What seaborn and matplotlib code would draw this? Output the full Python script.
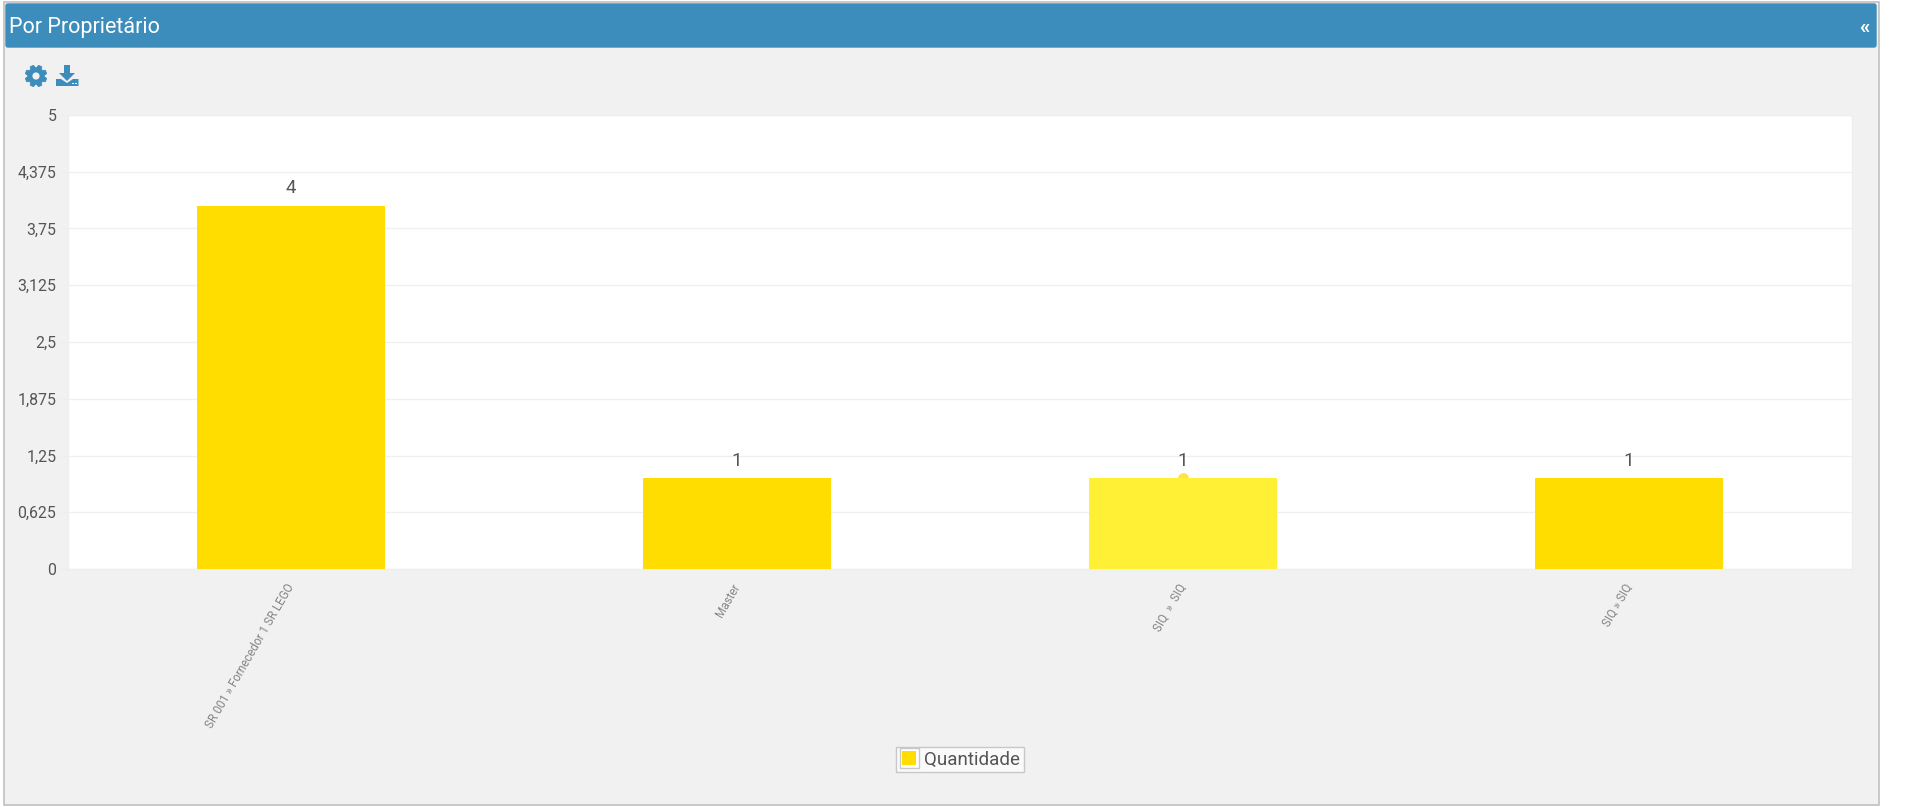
import numpy as np
import pandas as pd
import matplotlib
matplotlib.use("Agg")
import matplotlib.pyplot as plt
import seaborn as sns
from matplotlib.legend_handler import HandlerBase
from matplotlib.patches import Circle, FancyBboxPatch, Patch, Polygon, Rectangle
from matplotlib.transforms import Affine2D

# Chart values
owners = ["SR 001 » Fornecedor 1 SR LEGO", "Master", "SIQ  »  SIQ", "SIQ » SIQ"]
quantities = [4, 1, 1, 1]
bar_colors = ["#ffdd00", "#ffdd00", "#fff035", "#ffdd00"]
y_tick_values = [0, 0.625, 1.25, 1.875, 2.5, 3.125, 3.75, 4.375, 5]
y_tick_labels = ["0", "0,625", "1,25", "1,875", "2,5", "3,125", "3,75", "4,375", "5"]
series_name = "Quantidade"
panel_title = "Por Proprietário"
hovered_owner = 2

W, H = 1920, 807
BLUE = "#3c8dbc"
PANEL = "#f1f1f1"

sns.set_theme(style="white")
plt.rcParams["font.family"] = ["Roboto", "DejaVu Sans"]

fig = plt.figure(figsize=(W / 100, H / 100), dpi=100, facecolor="white")
to_px = Affine2D().scale(1, -1).translate(0, H)


def add_px(artist):
    artist.set_transform(to_px)
    artist.set_zorder(-5)
    fig.add_artist(artist)
    return artist


# Panel frame and header bar
add_px(Rectangle((3.5, 1.5), 1875, 803.5, facecolor=PANEL, edgecolor="#c0c0c0", linewidth=1.2))
add_px(FancyBboxPatch((6, 4), 1870, 43, boxstyle="round,pad=0,rounding_size=2",
                      facecolor=BLUE, edgecolor=BLUE, linewidth=1))
fig.text(9 / W, 1 - 28 / H, panel_title, color="white", fontsize=15.5, va="center", ha="left")
fig.text(1864 / W, 1 - 28 / H, "«", color="white", fontsize=15, fontweight="bold",
         va="center", ha="center")

# Settings gear icon
cx, cy = 36, 76
angles = np.linspace(0, 2 * np.pi, 8, endpoint=False) + np.pi / 8
gear = []
for a in angles:
    for da, r in [(-0.30, 8.6), (-0.17, 11), (0.17, 11), (0.30, 8.6)]:
        gear.append((cx + r * np.cos(a + da), cy + r * np.sin(a + da)))
add_px(Polygon(gear, closed=True, facecolor=BLUE, edgecolor=BLUE, linewidth=0.5))
add_px(Circle((cx, cy), 3.6, facecolor=PANEL, edgecolor="none"))

# Download icon
add_px(Polygon([(64, 65), (70, 65), (70, 73), (75, 73), (67, 81), (59, 73), (64, 73)],
               closed=True, facecolor=BLUE, edgecolor="none"))
add_px(Polygon([(56, 79), (61, 79), (67, 83), (73, 79), (78.5, 79), (78.5, 86), (56, 86)],
               closed=True, facecolor=BLUE, edgecolor="none"))
add_px(Rectangle((72, 82.5), 1.5, 1.5, facecolor="white", edgecolor="none"))
add_px(Rectangle((75, 82.5), 1.5, 1.5, facecolor="white", edgecolor="none"))

# Bar chart
left, right, top, bottom = 68, 1852, 115, 569
ax = fig.add_axes([left / W, 1 - bottom / H, (right - left) / W, (bottom - top) / H])
ax.set_facecolor("white")
df = pd.DataFrame({"owner": owners, "quantity": quantities})
sns.barplot(data=df, x="owner", y="quantity", hue="owner", palette=bar_colors,
            width=0.4215, saturation=1, legend=False, dodge=False, linewidth=0,
            ax=ax, zorder=3)
ax.set_xlim(-0.5, len(owners) - 0.5)
ax.set_ylim(0, 5)
ax.set_xlabel("")
ax.set_ylabel("")

ax.set_yticks(y_tick_values, y_tick_labels)
ax.yaxis.grid(True, color="#f0f0f0", linewidth=1)
ax.set_axisbelow(True)
ax.tick_params(axis="y", length=5.5, width=1, color="#eeeeee", labelcolor="#555555",
               labelsize=11.4, pad=3, left=True)
ax.set_xticks(range(len(owners)), owners)
ax.tick_params(axis="x", length=0, pad=9, labelcolor="#858585", labelsize=8.4)
nudge_left = Affine2D().translate(-5, 0)
for lab in ax.get_xticklabels():
    lab.set_rotation(60)
    lab.set_ha("right")
    lab.set_va("top")
    lab.set_rotation_mode("anchor")
    lab.set_transform(lab.get_transform() + nudge_left)
for side, spine in ax.spines.items():
    spine.set_color("#eeeeee")
    spine.set_linewidth(1)

# Value labels above the bars
for container in ax.containers:
    ax.bar_label(container, fmt="%d", padding=6, color="#555555", fontsize=13.5)

# Hover marker on the highlighted bar
ax.scatter([hovered_owner], [quantities[hovered_owner]], s=60, color="#ffe14d",
           linewidths=0, zorder=2.5, clip_on=False)


class FramedSwatch(HandlerBase):
    """Legend key: solid swatch inside a thin grey frame."""

    def create_artists(self, legend, orig, xd, yd, width, height, fontsize, trans):
        frame = Rectangle((-xd, -yd - 2), width, height + 4, facecolor="white",
                          edgecolor="#c8c8c8", linewidth=1, transform=trans)
        fill = Rectangle((-xd + 2, -yd), width - 4, height, facecolor=orig.get_facecolor(),
                         edgecolor="none", transform=trans)
        return [frame, fill]


handle = Patch(facecolor="#ffdd00", label=series_name)
leg = fig.legend(handles=[handle], handler_map={Patch: FramedSwatch()},
                 loc="center", bbox_to_anchor=(960 / W, 1 - 759.5 / H),
                 frameon=True, fancybox=False, framealpha=1, facecolor="#fafafa",
                 edgecolor="#c8c8c8", fontsize=13.5, labelcolor="#555555",
                 handlelength=1.05, handleheight=0.75, handletextpad=0.28,
                 borderpad=0.2, borderaxespad=0)
leg.get_frame().set_linewidth(1)

fig.savefig("out.png", dpi=100, facecolor=fig.get_facecolor())
